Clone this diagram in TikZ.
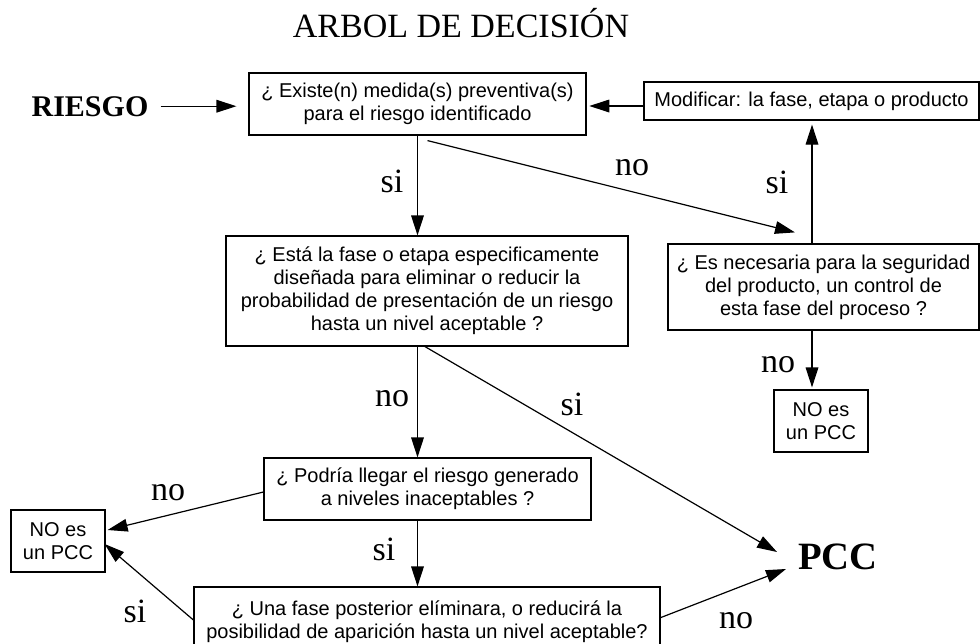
\documentclass[tikz,border=0pt]{standalone}
\usepackage{fontspec}
\setmainfont{Liberation Serif}
\setsansfont{Liberation Sans}
\usetikzlibrary{arrows.meta,calc}
\begin{document}
\begin{tikzpicture}[x=0.75pt,y=-0.75pt,
  box/.style={draw, line width=0.9pt, inner sep=0pt, align=center,
    font=\sffamily\fontsize{15}{17.25}\selectfont},
  arr/.style={-{Triangle[length=15pt,width=9.5pt]}, line width=0.9pt},
  lbl/.style={font=\fontsize{25.5}{26}\selectfont, anchor=base, inner sep=0pt},
  big/.style={font=\bfseries\fontsize{29}{29}\selectfont, anchor=base, inner sep=0pt},
]
\useasboundingbox (0,0) rectangle (980,643);

% title and free texts
\node[font=\fontsize{25.5}{26}\selectfont, anchor=base, inner sep=0pt] (title) at (461,37) {ARBOL DE DECISIÓN};
\node[font=\bfseries\fontsize{22.5}{23}\selectfont, anchor=base, inner sep=0pt] (riesgo) at (90,116) {RIESGO};
\node[big] (pcc) at (838,569) {PCC};

% boxes
\node[box, minimum width=337*0.75pt, minimum height=62*0.75pt] (b1) at (417.5,104)
  {¿ Existe(n) medida(s) preventiva(s)\\para el riesgo identificado};
\node[box, minimum width=335*0.75pt, minimum height=38*0.75pt] (mod) at (811.5,101)
  {Modificar: la fase, etapa o producto};
\node[box, minimum width=402*0.75pt, minimum height=110*0.75pt] (b2) at (427,291)
  {¿ Está la fase o etapa especificamente\\diseñada para eliminar o reducir la\\probabilidad de presentación de un riesgo\\hasta un nivel aceptable ?};
\node[box, minimum width=311*0.75pt, minimum height=86*0.75pt] (es) at (823.5,287)
  {¿ Es necesaria para la seguridad\\del producto, un control de\\esta fase del proceso ?};
\node[box, minimum width=94*0.75pt, minimum height=62*0.75pt] (nor) at (821,421)
  {NO es\\un PCC};
\node[box, minimum width=327*0.75pt, minimum height=62*0.75pt] (pod) at (427.5,489)
  {¿ Podría llegar el riesgo generado\\a niveles inaceptables ?};
\node[box, minimum width=94*0.75pt, minimum height=62*0.75pt] (nol) at (58,541)
  {NO es\\un PCC};
\node[box, minimum width=466*0.75pt, minimum height=70*0.75pt] (b3) at (427,622)
  {¿ Una fase posterior elíminara, o reducirá la\\posibilidad de aparición hasta un nivel aceptable?};

% helper coordinates
\coordinate (r106) at (0,106);
\coordinate (x812) at (812,0);
\coordinate (pccin1) at (777,552);
\coordinate (pccin2) at (786,569);

% connectors
\draw[arr, shorten <=9pt, shorten >=9pt] (riesgo.east) -- (riesgo.east -| b1.west);
\draw[arr, shorten >=2pt] (mod.west |- r106) -- (b1.east |- r106);
\draw[arr] (b1.south) -- (b1.south |- b2.north);
\draw[arr] ($(b1.south)+(10,5)$) -- ($(es.north)+(-28.5,-11)$);
\draw[arr, shorten >=3pt] (es.north -| x812) -- (mod.south -| x812);
\draw[arr, shorten >=1.5pt] (es.south -| x812) -- (nor.north -| x812);
\draw[arr] (b1.south |- b2.south) -- (b1.south |- pod.north);
\draw[arr] ($(b2.south)+(-2,0)$) -- (pccin1);
\draw[arr] ($(pod.west)+(0,3)$) -- ($(nol.east)+(2,-11)$);
\draw[arr] (b1.south |- pod.south) -- (b1.south |- b3.north);
\draw[arr] ($(b3.west)+(0,-2)$) -- ($(nol.east)+(-1,3)$);
\draw[arr] ($(b3.east)+(-1,-4)$) -- (pccin2);

% labels
\node[lbl] (l1) at (392,192) {si};
\node[lbl] (l2) at (632,175) {no};
\node[lbl] (l3) at (777,193) {si};
\node[lbl] (l4) at (778,372) {no};
\node[lbl] (l5) at (392,406) {no};
\node[lbl] (l6) at (572,415) {si};
\node[lbl] (l7) at (168,500) {no};
\node[lbl] (l8) at (384,560) {si};
\node[lbl] (l9) at (135,622) {si};
\node[lbl] (l10) at (736,628) {no};
\end{tikzpicture}
\end{document}
